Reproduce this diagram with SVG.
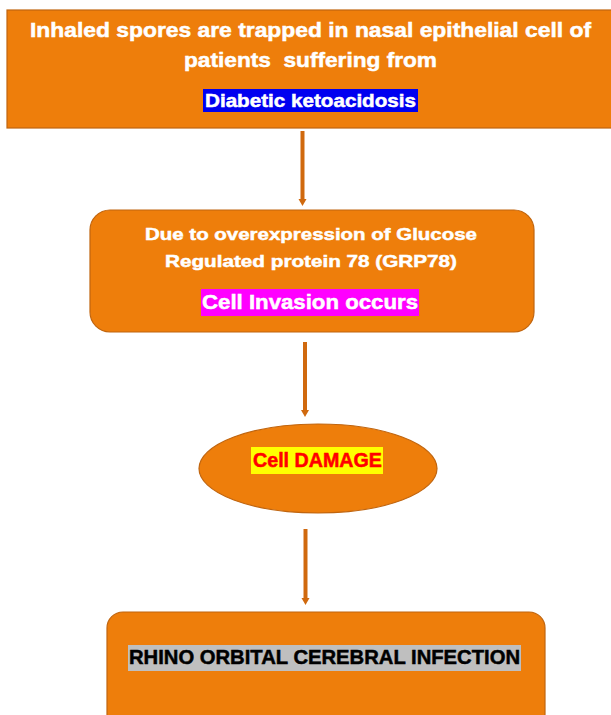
<svg xmlns="http://www.w3.org/2000/svg" width="611" height="715" viewBox="0 0 611 715">
<defs>
<style>
.box{fill:#EE7E0B;stroke:#C0650F;stroke-width:1.2}
.t{font-family:"Liberation Sans",Arial,sans-serif;font-weight:bold;text-anchor:middle;stroke-width:0.5}
.w{fill:#FFFFFF;stroke:#FFFFFF}
.conn{stroke:#D0690E;stroke-width:4;fill:none}
.head{fill:#D0690E}
</style>
</defs>
<rect width="611" height="715" fill="#FFFFFF"/>
<g id="connectors">
<line class="conn" x1="302.5" y1="131" x2="302.5" y2="200"/>
<path class="head" d="M298.5,199 L306.5,199 L302.5,206 Z"/>
<line class="conn" x1="305" y1="342" x2="305" y2="411"/>
<path class="head" d="M301,410 L309,410 L305,417 Z"/>
<line class="conn" x1="305.5" y1="529" x2="305.5" y2="599"/>
<path class="head" d="M301.5,598 L309.5,598 L305.5,605 Z"/>
</g>
<g id="node1">
<rect class="box" x="7" y="10" width="610" height="118"/>
<text class="t w" x="310.5" y="37" font-size="20.5" textLength="561" lengthAdjust="spacingAndGlyphs">Inhaled spores are trapped in nasal epithelial cell of</text>
<text class="t w" x="310.5" y="67" font-size="20.5" textLength="253" lengthAdjust="spacingAndGlyphs" xml:space="preserve">patients  suffering from</text>
<rect x="203" y="89" width="215" height="23" fill="#0000F0"/>
<text class="t w" x="310.5" y="107" font-size="19" textLength="211" lengthAdjust="spacingAndGlyphs">Diabetic ketoacidosis</text>
</g>
<g id="node2">
<rect class="box" x="90" y="210" width="444" height="122" rx="20"/>
<text class="t w" x="311" y="240" font-size="17" textLength="332" lengthAdjust="spacingAndGlyphs">Due to overexpression of Glucose</text>
<text class="t w" x="311" y="266.5" font-size="17" textLength="292" lengthAdjust="spacingAndGlyphs">Regulated protein 78 (GRP78)</text>
<rect x="201" y="289" width="218" height="27" fill="#FF00FF"/>
<text class="t w" x="310" y="309" font-size="20.5" textLength="216" lengthAdjust="spacingAndGlyphs">Cell Invasion occurs</text>
</g>
<g id="node3">
<ellipse class="box" cx="318" cy="468.5" rx="119" ry="44.5"/>
<rect x="251" y="447" width="132" height="27" fill="#FFFF00"/>
<text class="t" x="317.5" y="467" font-size="19.5" fill="#FF0000" stroke="#FF0000" textLength="129" lengthAdjust="spacingAndGlyphs">Cell DAMAGE</text>
</g>
<g id="node4">
<rect class="box" x="107" y="612" width="438" height="118" rx="16"/>
<rect x="128" y="645" width="393" height="26" fill="#BFBFBF"/>
<text class="t" x="324.5" y="664" font-size="20" fill="#000000" stroke="#000000" textLength="391" lengthAdjust="spacingAndGlyphs">RHINO ORBITAL CEREBRAL INFECTION</text>
</g>
</svg>
